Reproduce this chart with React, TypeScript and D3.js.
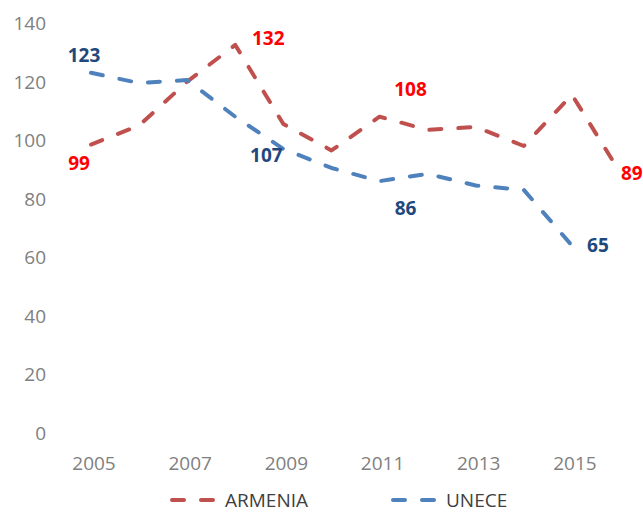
import React, { useEffect } from 'react';
import * as d3 from 'd3';

const years = ['2005', '2006', '2007', '2008', '2009', '2010', '2011', '2012', '2013', '2014', '2015', '2016'];
const armenia = [98.5, 105, 120, 132.5, 105.5, 96.5, 108, 103.5, 104.5, 98, 115.5, 89];
const unece = [123, 119.5, 120.5, 108, 97, 90.5, 86, 88.5, 84.5, 83, 64];
const yTicks = [0, 20, 40, 60, 80, 100, 120, 140];
const xTicks = ['2005', '2007', '2009', '2011', '2013', '2015'];

// data labels as shown on the chart (text, series, year)
const labels = [
  { text: '123', series: 'unece', year: '2005', dx: -7, dy: -18 },
  { text: '99', series: 'armenia', year: '2005', dx: -12, dy: 18 },
  { text: '132', series: 'armenia', year: '2008', dx: 33, dy: -7 },
  { text: '107', series: 'unece', year: '2009', dx: -17, dy: 6 },
  { text: '108', series: 'armenia', year: '2011', dx: 31, dy: -28 },
  { text: '86', series: 'unece', year: '2011', dx: 26, dy: 27 },
  { text: '65', series: 'unece', year: '2015', dx: 26, dy: -1 },
  { text: '89', series: 'armenia', year: '2016', dx: 1, dy: 1, anchor: 'start' },
];

const RED = '#C0504D';
const BLUE = '#4F81BD';
const FONT = "'Open Sans', sans-serif";

const App = () => {
  useEffect(() => {
    document.body.style.margin = '0';
  }, []);

  const x = d3.scalePoint<string>().domain(years).range([91, 620]);
  const y = d3.scaleLinear().domain([0, 140]).range([433, 23]);

  const line = d3.line<number>()
    .x((_, i) => x(years[i]) as number)
    .y(d => y(d));

  const seriesData: Record<string, number[]> = { armenia, unece };

  return (
    <svg width={643} height={512} style={{ display: 'block', fontFamily: FONT }}>
      {yTicks.map(t => (
        <text key={t} x={46} y={y(t)} textAnchor="end" dominantBaseline="central"
          fontSize={19} fill="#808080">{t}</text>
      ))}
      {xTicks.map(t => (
        <text key={t} x={(x(t) as number) + 3} y={463} textAnchor="middle" dominantBaseline="central"
          fontSize={19} fill="#808080">{t}</text>
      ))}

      <path d={line(armenia) || ''} fill="none" stroke={RED} strokeWidth={4}
        strokeDasharray="12 17" strokeLinecap="round" strokeLinejoin="round" />
      <path d={line(unece) || ''} fill="none" stroke={BLUE} strokeWidth={4}
        strokeDasharray="12 17" strokeLinecap="round" strokeLinejoin="round" />

      {labels.map(l => {
        const i = years.indexOf(l.year);
        const v = seriesData[l.series][i];
        return (
          <text key={l.text + l.series} x={(x(l.year) as number) + l.dx} y={y(v) + l.dy}
            textAnchor={l.anchor || 'middle'} dominantBaseline="central" fontSize={19}
            fontWeight="bold" fill={l.series === 'armenia' ? '#FF0000' : '#1F497D'}>{l.text}</text>
        );
      })}

      <g transform="translate(172,500)">
        <line x1={0} x2={43} y1={0} y2={0} stroke={RED} strokeWidth={4}
          strokeDasharray="12 17" strokeLinecap="round" />
        <text x={53} y={0} dominantBaseline="central" fontSize={19} fill="#404040">ARMENIA</text>
      </g>
      <g transform="translate(393,500)">
        <line x1={0} x2={43} y1={0} y2={0} stroke={BLUE} strokeWidth={4}
          strokeDasharray="12 17" strokeLinecap="round" />
        <text x={53} y={0} dominantBaseline="central" fontSize={19} fill="#404040">UNECE</text>
      </g>
    </svg>
  );
};

export default App;
